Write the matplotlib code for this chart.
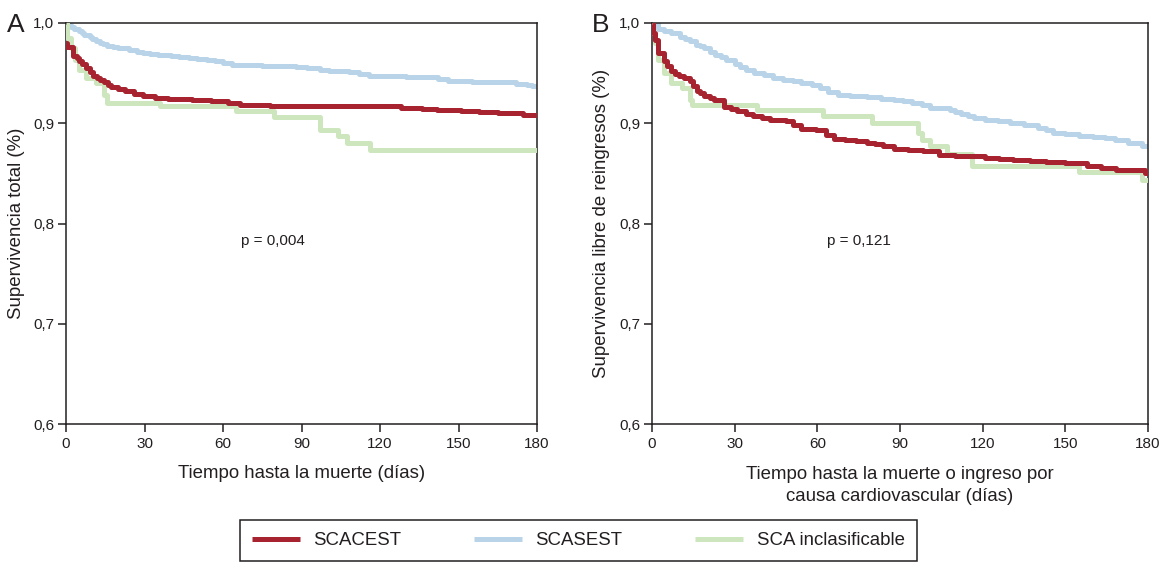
import matplotlib
matplotlib.use("Agg")
import matplotlib.pyplot as plt
from matplotlib.lines import Line2D

plt.rcParams['font.family'] = ['Liberation Sans', 'DejaVu Sans']

# ---------------- data ----------------
series_names = ["SCACEST", "SCASEST", "SCA inclasificable"]
x_ticks = [0, 30, 60, 90, 120, 150, 180]
y_ticks = [0.6, 0.7, 0.8, 0.9, 1.0]
y_tick_labels = ["0,6", "0,7", "0,8", "0,9", "1,0"]

# Panel A: overall survival
a_red_t = [0, 0.5, 2.7, 4.1, 5, 6, 7.5, 9, 10.3, 12, 13, 14.4, 16, 17.1, 20, 22.6, 26, 29.4, 34, 39, 48, 55.4, 62, 66.4, 78, 120, 128, 136, 141.7, 151, 158, 165, 174.5, 180]
a_red_s = [0.980, 0.976, 0.967, 0.965, 0.962, 0.959, 0.955, 0.951, 0.947, 0.945, 0.943, 0.941, 0.938, 0.936, 0.934, 0.932, 0.929, 0.927, 0.925, 0.924, 0.923, 0.922, 0.920, 0.918, 0.917, 0.917, 0.915, 0.914, 0.913, 0.912, 0.911, 0.910, 0.908, 0.908]

a_blue_t = [0, 1, 2, 3, 4.8, 6, 7, 9, 10, 11.6, 13, 14, 15.7, 18, 20, 24, 27, 29.4, 32, 35, 40, 43, 47, 50, 54, 56.8, 60, 63.6, 75, 88, 92, 97, 100.6, 108, 112, 115.7, 130, 139, 142, 145.8, 155, 166, 172, 176, 178, 180]
a_blue_s = [1.0, 0.998, 0.996, 0.994, 0.992, 0.990, 0.988, 0.986, 0.984, 0.982, 0.980, 0.979, 0.977, 0.976, 0.975, 0.973, 0.971, 0.970, 0.969, 0.968, 0.967, 0.966, 0.965, 0.964, 0.963, 0.962, 0.960, 0.958, 0.957, 0.956, 0.955, 0.953, 0.952, 0.951, 0.949, 0.947, 0.946, 0.946, 0.944, 0.942, 0.941, 0.941, 0.939, 0.938, 0.937, 0.936]

a_green_t = [0, 0.5, 2, 3.4, 4.8, 7.5, 11.6, 14.4, 15.7, 36, 65, 79.4, 97, 104, 107.5, 116, 180]
a_green_s = [1.0, 0.985, 0.975, 0.963, 0.953, 0.945, 0.940, 0.928, 0.920, 0.917, 0.912, 0.906, 0.893, 0.887, 0.880, 0.873, 0.873]

# Panel B: readmission-free survival
b_red_t = [0, 0.5, 1, 2.3, 4.3, 5.5, 7, 8.5, 9.7, 11.5, 13.7, 15, 16.4, 17.5, 19, 21, 22.5, 26, 28.5, 31, 34, 36.6, 40, 43, 48.7, 51, 54, 59.5, 63, 66, 70, 74, 78, 81, 84, 87.8, 93, 98.5, 104, 110, 121, 126, 131, 137, 143, 150, 158, 163, 168.5, 179, 180]
b_red_s = [1.0, 0.990, 0.983, 0.970, 0.962, 0.957, 0.952, 0.949, 0.947, 0.945, 0.942, 0.937, 0.932, 0.930, 0.927, 0.925, 0.923, 0.916, 0.914, 0.912, 0.909, 0.907, 0.905, 0.903, 0.902, 0.898, 0.894, 0.893, 0.888, 0.884, 0.883, 0.882, 0.880, 0.879, 0.877, 0.874, 0.873, 0.872, 0.868, 0.867, 0.865, 0.864, 0.863, 0.862, 0.861, 0.860, 0.857, 0.855, 0.853, 0.850, 0.850]

b_blue_t = [0, 2.3, 4.5, 7, 10, 12, 13.7, 16, 17.5, 19, 21, 23, 25, 27, 30, 32, 34, 37, 40.6, 44, 47.4, 51, 54, 58, 60.8, 64, 67.6, 72, 78, 83, 87.8, 91, 94.5, 98, 101, 108, 110, 112, 114.5, 117, 121, 125.5, 130, 135, 140, 143, 145.7, 150, 155, 160, 164.5, 168, 172.6, 178, 180]
b_blue_s = [1.0, 0.994, 0.992, 0.990, 0.986, 0.984, 0.982, 0.978, 0.977, 0.975, 0.971, 0.968, 0.966, 0.963, 0.959, 0.956, 0.953, 0.950, 0.948, 0.945, 0.943, 0.942, 0.940, 0.938, 0.935, 0.931, 0.928, 0.927, 0.926, 0.924, 0.923, 0.922, 0.920, 0.918, 0.915, 0.913, 0.911, 0.909, 0.907, 0.905, 0.903, 0.902, 0.900, 0.898, 0.895, 0.893, 0.890, 0.889, 0.887, 0.886, 0.885, 0.883, 0.880, 0.877, 0.876]

b_green_t = [0, 0.5, 1, 2.3, 4.3, 7, 11, 13.7, 14.4, 38, 62, 79.7, 96.5, 98, 101, 107, 116, 155, 178, 180]
b_green_s = [1.0, 0.990, 0.980, 0.963, 0.950, 0.940, 0.935, 0.923, 0.918, 0.913, 0.907, 0.900, 0.890, 0.883, 0.877, 0.869, 0.857, 0.851, 0.843, 0.843]

panel_letters = ["A", "B"]
p_values = ["p = 0,004", "p = 0,121"]
y_labels = ["Supervivencia total (%)", "Supervivencia libre de reingresos (%)"]
x_labels = ["Tiempo hasta la muerte (días)", "Tiempo hasta la muerte o ingreso por\ncausa cardiovascular (días)"]

# ---------------- style ----------------
c_red = "#a6232f"
c_blue = "#b9d4e8"
c_green = "#cde6bd"
txt = "#231f20"
lw = 3.6

W, H = 1162, 564
fig = plt.figure(figsize=(W / 100, H / 100), dpi=100)

def fx(px):
    return px / W

def fy(py):
    return 1 - py / H

axA = fig.add_axes([fx(66), fy(424), fx(537) - fx(66), fy(23) - fy(424)])
axB = fig.add_axes([fx(652), fy(424), fx(1148) - fx(652), fy(23) - fy(424)])

panels = [
    (axA, (a_green_t, a_green_s), (a_blue_t, a_blue_s), (a_red_t, a_red_s)),
    (axB, (b_green_t, b_green_s), (b_blue_t, b_blue_s), (b_red_t, b_red_s)),
]
ylab_x = [(17 - 66) / 471, (601 - 652) / 496]
xlab_y = [(424 - 474) / 401, (424 - 485.5) / 401]
p_pos = [((273 - 66) / 471, (424 - 241) / 401), ((859 - 652) / 496, (424 - 241) / 401)]

for i, (ax, g, b, r) in enumerate(panels):
    ax.step(b[0], b[1], where="post", color=c_blue, lw=lw, solid_capstyle="butt", zorder=2)
    ax.step(g[0], g[1], where="post", color=c_green, lw=lw, solid_capstyle="butt", zorder=3)
    ax.step(r[0], r[1], where="post", color=c_red, lw=lw, solid_capstyle="butt", zorder=4)
    ax.set_xlim(0, 180)
    ax.set_ylim(0.6, 1.0)
    ax.set_xticks(x_ticks)
    ax.set_xticklabels([str(v) for v in x_ticks])
    ax.set_yticks(y_ticks)
    ax.set_yticklabels(y_tick_labels)
    ax.tick_params(direction="out", length=6, width=1.1, labelsize=11, colors=txt)
    ax.tick_params(axis="x", pad=3)
    ax.tick_params(axis="y", pad=2.5)
    for sp in ax.spines.values():
        sp.set_linewidth(1.1)
        sp.set_color(txt)
    ax.set_ylabel(y_labels[i], fontsize=13.4, color=txt)
    ax.yaxis.label.set_va("center")
    ax.yaxis.set_label_coords(ylab_x[i], 0.5)
    ax.set_xlabel(x_labels[i], fontsize=13.4, color=txt, linespacing=1.35)
    ax.xaxis.label.set_va("center")
    ax.xaxis.set_label_coords(0.5, xlab_y[i])
    ax.text(p_pos[i][0], p_pos[i][1], p_values[i], transform=ax.transAxes, ha="center",
            va="center", fontsize=11, color=txt)

fig.text(fx(7), fy(25), panel_letters[0], fontsize=19, color=txt, ha="left", va="center")
fig.text(fx(592), fy(25), panel_letters[1], fontsize=19, color=txt, ha="left", va="center")

handles = [Line2D([], [], color=c, lw=lw, solid_capstyle="butt") for c in (c_red, c_blue, c_green)]
leg = fig.legend(handles, series_names, loc="upper left", ncol=3,
                 bbox_to_anchor=(fx(240), fy(520)),
                 frameon=True, fancybox=False, framealpha=1, edgecolor=txt, fontsize=13.4,
                 handlelength=2.6, handletextpad=0.7, columnspacing=3.9,
                 borderaxespad=0, borderpad=0.65)
leg.get_frame().set_linewidth(1.1)
for t in leg.get_texts():
    t.set_color(txt)

fig.savefig("out.png", dpi=100)
